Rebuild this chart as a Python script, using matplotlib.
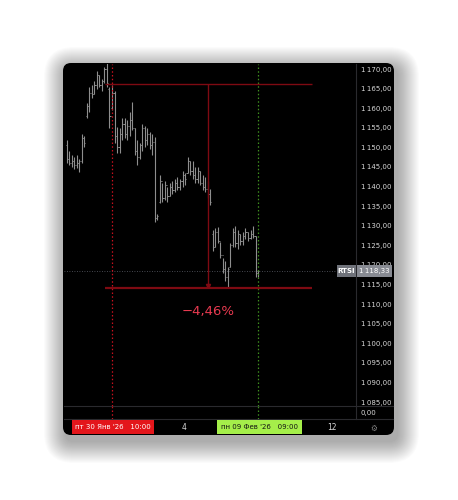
import matplotlib.pyplot as plt
from matplotlib.patches import FancyBboxPatch, Rectangle
import numpy as np

W, H = 458, 500

# hourly OHLC bars of RTSI
highs = [1151.9, 1149.0, 1148.0, 1147.5, 1148.0, 1147.0, 1153.5, 1153.0, 1161.3, 1165.4,
         1166.0, 1167.0, 1169.5, 1168.5, 1167.5, 1170.5, 1171.5, 1165.4, 1166.0, 1164.5,
         1155.2, 1155.0, 1157.5, 1157.5, 1157.0, 1159.0, 1161.5, 1155.0, 1152.0, 1151.0,
         1156.0, 1155.5, 1155.0, 1154.0, 1153.5, 1152.6, 1133.0, 1143.0, 1141.0, 1141.5,
         1140.0, 1141.0, 1141.5, 1142.0, 1142.5, 1142.0, 1144.0, 1143.5, 1147.5, 1146.5,
         1146.5, 1145.0, 1145.0, 1144.0, 1143.0, 1142.5, 1141.5, 1139.5, 1129.0, 1129.5,
         1129.7, 1125.8, 1121.8, 1121.0, 1119.5, 1125.5, 1129.5, 1130.0, 1129.0, 1128.0,
         1128.5, 1129.5, 1128.5, 1129.0, 1130.0, 1127.5, 1118.8]
lows = [1146.0, 1145.5, 1145.0, 1144.5, 1144.8, 1143.8, 1146.0, 1150.0, 1157.5, 1159.0,
        1162.5, 1163.5, 1165.0, 1165.5, 1164.5, 1166.5, 1165.5, 1155.0, 1159.5, 1151.0,
        1148.6, 1148.5, 1152.0, 1152.5, 1152.0, 1153.0, 1154.5, 1148.0, 1145.5, 1147.0,
        1149.0, 1150.0, 1150.5, 1149.5, 1148.0, 1131.0, 1131.5, 1135.8, 1136.0, 1136.5,
        1136.0, 1137.5, 1138.0, 1138.5, 1139.0, 1139.0, 1140.0, 1140.5, 1143.5, 1143.0,
        1142.0, 1141.0, 1141.0, 1140.5, 1139.0, 1138.5, 1137.0, 1135.3, 1123.5, 1124.5,
        1125.6, 1121.8, 1118.0, 1116.0, 1114.2, 1119.5, 1124.5, 1124.5, 1124.0, 1125.0,
        1125.0, 1126.5, 1126.0, 1126.5, 1127.0, 1117.0, 1116.8]
opens = [1150.5, 1147.0, 1146.0, 1146.5, 1145.5, 1146.0, 1146.5, 1152.5, 1158.0, 1160.5,
         1164.0, 1163.5, 1166.0, 1168.5, 1166.0, 1167.0, 1170.0, 1165.0, 1160.0, 1164.0,
         1153.0, 1150.0, 1153.5, 1156.0, 1153.5, 1155.5, 1157.0, 1155.0, 1149.0, 1147.5,
         1150.5, 1155.0, 1152.0, 1153.5, 1150.5, 1151.5, 1132.0, 1136.0, 1141.5, 1137.0,
         1140.5, 1137.5, 1140.0, 1139.0, 1141.0, 1140.0, 1141.5, 1143.0, 1143.5, 1146.5,
         1144.0, 1143.0, 1142.0, 1144.0, 1141.0, 1140.0, 1139.5, 1138.0, 1128.0, 1124.5,
         1128.5, 1126.0, 1122.5, 1119.0, 1117.0, 1119.5, 1125.0, 1128.5, 1125.5, 1128.0,
         1126.0, 1127.5, 1128.5, 1127.0, 1128.0, 1127.5, 1118.0]
closes = [1147.0, 1146.0, 1146.5, 1145.5, 1146.0, 1146.5, 1152.5, 1151.0, 1160.5, 1164.0,
          1163.5, 1166.0, 1168.5, 1166.0, 1167.0, 1170.0, 1166.5, 1158.0, 1164.0, 1153.0,
          1150.0, 1153.5, 1156.0, 1153.5, 1155.5, 1157.0, 1155.0, 1149.0, 1147.5, 1150.5,
          1155.0, 1152.0, 1153.5, 1150.5, 1151.5, 1132.0, 1132.5, 1141.5, 1137.0, 1140.5,
          1137.5, 1140.0, 1139.0, 1141.0, 1140.0, 1141.5, 1143.0, 1142.0, 1146.5, 1144.0,
          1143.0, 1142.0, 1144.0, 1141.0, 1140.0, 1139.5, 1138.0, 1136.0, 1124.5, 1128.5,
          1126.0, 1122.5, 1119.0, 1117.0, 1119.0, 1125.0, 1128.5, 1125.5, 1128.0, 1126.0,
          1127.5, 1128.5, 1127.0, 1128.0, 1127.5, 1118.0, 1118.33]

last_price = 1118.33
price_ticks = list(range(1085, 1171, 5))

# time marks (bar index)
bar_red, bar_green = 18, 76
label_red = "пт 30 Янв '26   10:00"
label_green = "пн 09 Фев '26   09:00"
day_ticks = [46.6, 105.4]
day_labels = ["4", "12"]

# price range measurement
meas_top, meas_bot = 1166.1, 1114.1
meas_x0, meas_x1, meas_mid = 15.2, 97.5, 56
meas_text = "\u22124,46%"


def fmt(v):
    s = f"{v:,.2f}"
    return s.replace(",", "\u2009").replace(".", ",")


def px_axes(x0, y0, x1, y1):
    return fig.add_axes([x0 / W, 1 - y1 / H, (x1 - x0) / W, (y1 - y0) / H])


fig = plt.figure(figsize=(W / 100, H / 100), dpi=100)
fig.patch.set_facecolor('white')

# background with panel + soft shadow, in pixel units
bg = fig.add_axes([0, 0, 1, 1])
bg.set_xlim(0, W)
bg.set_ylim(H, 0)
bg.axis('off')
px0, py0, px1, py1 = 63, 63, 394, 435
for k in range(22, 0, -1):
    bg.add_patch(FancyBboxPatch((px0 + 3 - k, py0 + 6 - k), px1 - px0 + 2 * k, py1 - py0 + 2 * k,
                                boxstyle=f"round,pad=0,rounding_size={8 + k}",
                                fc='black', ec='none', alpha=0.016))
bg.add_patch(FancyBboxPatch((px0, py0), px1 - px0, py1 - py0,
                            boxstyle="round,pad=0,rounding_size=8", fc='black', ec='none'))
sep = '#2a2a2e'
bg.plot([356, 356], [64, 419], color=sep, lw=0.8)
bg.plot([64, 393], [406, 406], color=sep, lw=0.8)
bg.plot([64, 393], [419, 419], color=sep, lw=0.8)
bg.text(374, 428, "\u2699", color='#808080', fontsize=5.5, ha='center', va='center')

# main price pane
ax = px_axes(64, 64, 356, 406)
ax.set_facecolor('none')
x = np.arange(len(highs))
ax.set_xlim(-1.07, 114.9)
ax.set_ylim(1084.0, 1171.28)

bar_col = '#8e8e8e'
ax.vlines(x, lows, highs, color=bar_col, lw=0.8)
ax.hlines(opens, x - 0.45, x, color=bar_col, lw=0.7)
ax.hlines(closes, x, x + 0.45, color=bar_col, lw=0.7)

ax.axhline(last_price, color='#5d606b', lw=0.6, ls=(0, (1, 2)))
ax.axvline(bar_red, color='#c8101e', lw=0.9, ls=(0, (1.2, 1.8)))
ax.axvline(bar_green, color='#3f8f1f', lw=0.9, ls=(0, (1.2, 1.8)))

mcol = '#7e0a12'
ax.hlines(meas_top, meas_x0, meas_x1, color=mcol, lw=1.0)
ax.hlines(meas_bot, meas_x0, meas_x1, color=mcol, lw=1.6)
ax.vlines(meas_mid, meas_bot, meas_top, color=mcol, lw=1.0)
ax.plot([meas_mid], [meas_bot + 0.6], marker='v', ms=3, color=mcol)
ax.text(meas_mid, meas_bot - 6.0, meas_text, color='#e83a50', fontsize=9.5,
        ha='center', va='center')

ax.yaxis.tick_right()
ax.set_yticks(price_ticks)
ax.set_yticklabels([fmt(v) for v in price_ticks])
ax.tick_params(axis='y', length=0, pad=3.5, labelsize=5, labelcolor='#d8d8d8')
ax.set_xticks([])
for s in ax.spines.values():
    s.set_visible(False)

# last price labels, drawn over the axis labels
ytr = ax.get_yaxis_transform()
hh = 12 / 3.918
ax.add_patch(Rectangle((0.935, last_price - hh / 2), 0.065, hh, transform=ytr,
                       fc='#6f727a', ec='none', clip_on=False, zorder=5))
ax.add_patch(Rectangle((1.004, last_price - hh / 2), 0.12, hh, transform=ytr,
                       fc='#878a92', ec='none', clip_on=False, zorder=5))
ax.text(0.9675, last_price, "RTSI", transform=ytr, color='white', fontsize=5,
        fontweight='bold', ha='center', va='center', zorder=6)
ax.text(1.064, last_price, fmt(last_price), transform=ytr, color='white', fontsize=5,
        ha='center', va='center', zorder=6)

# empty indicator pane
sub = px_axes(64, 406, 356, 419)
sub.set_facecolor('none')
sub.set_xlim(ax.get_xlim())
sub.set_ylim(-1, 1)
sub.axvline(bar_red, color='#c8101e', lw=0.9, ls=(0, (1.2, 1.8)))
sub.axvline(bar_green, color='#3f8f1f', lw=0.9, ls=(0, (1.2, 1.8)))
sub.yaxis.tick_right()
sub.set_yticks([0])
sub.set_yticklabels(["0,00"])
sub.tick_params(axis='y', length=0, pad=3.5, labelsize=5, labelcolor='#d8d8d8')
sub.set_xticks([])
for s in sub.spines.values():
    s.set_visible(False)

# time axis
tx = px_axes(64, 419, 356, 435)
tx.set_facecolor('none')
tx.set_xlim(ax.get_xlim())
tx.set_ylim(0, 1)
tx.axis('off')
bw = 82 / 2.517
tx.add_patch(Rectangle((bar_red + 0.4 - bw / 2, 0.05), bw, 0.9, fc='#e3161b', ec='none'))
tx.add_patch(Rectangle((bar_green - bw / 2, 0.05), bw + 1, 0.9, fc='#a5ef4a', ec='none'))
tx.text(bar_red + 0.4, 0.5, label_red, color='white', fontsize=5, ha='center', va='center')
tx.text(bar_green + 0.5, 0.5, label_green, color='#131313', fontsize=5, ha='center', va='center')
for p, l in zip(day_ticks, day_labels):
    tx.text(p, 0.5, l, color='#d8d8d8', fontsize=5.5, ha='center', va='center')

fig.savefig('out.png', dpi=100, facecolor='white')
